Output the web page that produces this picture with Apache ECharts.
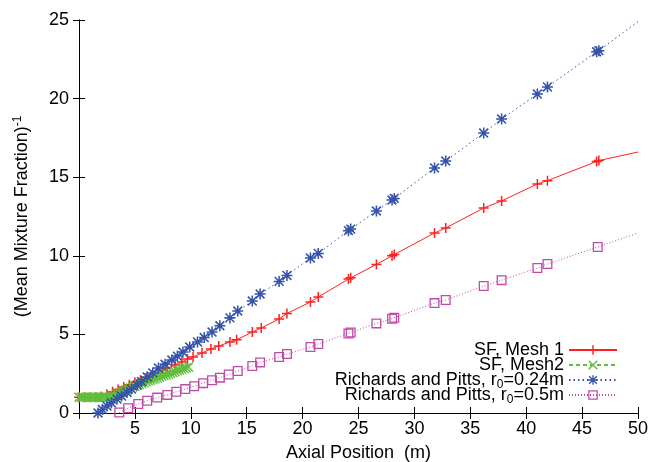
<!DOCTYPE html>
<html><head><meta charset="utf-8">
<script src="https://cdn.jsdelivr.net/npm/echarts@6/dist/echarts.min.js"></script>
<style>html,body{margin:0;padding:0;background:#fff}#c{width:652px;height:462px}</style>
</head><body><div id="c"></div>
<script>
// ---- data ----
const seriesNames = ['SF, Mesh 1', 'SF, Mesh2', 'Richards and Pitts, r0=0.24m', 'Richards and Pitts, r0=0.5m'];

const redX = [0, 0.5, 1, 1.5, 2, 2.5, 3, 3.5, 4, 4.5, 5, 5.5, 6, 6.5, 7, 7.5, 7.9, 8.6, 9.2, 9.7, 10.2, 11.0, 11.8, 12.5, 13.5, 14.1, 15.5, 16.3, 17.9, 18.6, 20.7, 21.4, 24.1, 24.3, 26.6, 28.0, 28.2, 31.8, 32.8, 36.2, 37.8, 41.0, 41.9, 46.3, 46.5];
const redY = [1.0, 1.0, 1.0, 1.0, 1.05, 1.2, 1.35, 1.5, 1.65, 1.8, 1.95, 2.1, 2.25, 2.4, 2.55, 2.72, 2.86, 3.05, 3.24, 3.43, 3.56, 3.82, 4.07, 4.26, 4.52, 4.66, 5.15, 5.41, 5.98, 6.33, 7.06, 7.38, 8.52, 8.6, 9.45, 10.0, 10.08, 11.45, 11.77, 13.04, 13.49, 14.57, 14.78, 16.0, 16.06];
const redLineEnd = [50, 16.6];

const greenX = [0, 0.2, 0.4, 0.6, 0.8, 1.0, 1.2, 1.4, 1.6, 1.8, 2.0, 2.2, 2.4, 2.6, 2.8, 3.0, 3.2, 3.4, 3.6, 3.8, 4.0, 4.2, 4.4, 4.6, 4.8, 5.0, 5.2, 5.4, 5.6, 5.8, 6.0, 6.2, 6.4, 6.6, 6.8, 7.0, 7.2, 7.4, 7.6, 7.8, 8.0, 8.2, 8.4, 8.6, 8.8, 9.0, 9.2, 9.4, 9.6, 9.8];
const greenY = [1.0, 1.0, 1.0, 1.0, 1.0, 1.0, 1.0, 1.0, 1.0, 1.0, 1.0, 1.0, 1.0, 1.0, 1.02, 1.07, 1.13, 1.2, 1.27, 1.34, 1.41, 1.47, 1.53, 1.59, 1.65, 1.7, 1.76, 1.81, 1.87, 1.92, 1.98, 2.03, 2.08, 2.13, 2.18, 2.23, 2.28, 2.33, 2.38, 2.43, 2.48, 2.53, 2.58, 2.63, 2.68, 2.73, 2.78, 2.83, 2.88, 2.93];

const blueX = [1.7, 2.1, 2.5, 2.9, 3.4, 3.8, 4.3, 4.7, 5.2, 5.6, 6.1, 6.6, 7.1, 7.7, 8.3, 8.8, 9.3, 9.9, 10.6, 11.2, 11.9, 12.6, 13.5, 14.2, 15.5, 16.2, 17.9, 18.6, 20.7, 21.4, 24.1, 24.3, 26.6, 28.0, 28.2, 31.8, 32.8, 36.2, 37.8, 41.0, 41.9, 46.3, 46.5];
const blueY = [0.0, 0.22, 0.45, 0.65, 0.88, 1.08, 1.3, 1.52, 1.78, 2.0, 2.29, 2.55, 2.86, 3.1, 3.37, 3.62, 3.88, 4.2, 4.52, 4.8, 5.15, 5.55, 6.05, 6.49, 7.12, 7.57, 8.37, 8.75, 9.86, 10.15, 11.6, 11.7, 12.85, 13.55, 13.65, 15.59, 16.03, 17.81, 18.7, 20.29, 20.74, 22.98, 23.05];
const blueLineEnd = [50, 24.9];

const magX = [3.6, 4.4, 5.3, 6.1, 7.0, 7.9, 8.7, 9.5, 10.3, 11.1, 11.9, 12.6, 13.4, 14.2, 15.5, 16.2, 17.9, 18.6, 20.7, 21.4, 24.1, 24.3, 26.6, 28.0, 28.2, 31.8, 32.8, 36.2, 37.8, 41.0, 41.9, 46.4];
const magY = [0.03, 0.3, 0.57, 0.78, 0.98, 1.15, 1.35, 1.52, 1.70, 1.90, 2.08, 2.25, 2.45, 2.67, 2.99, 3.22, 3.56, 3.75, 4.20, 4.39, 5.06, 5.12, 5.70, 6.0, 6.06, 6.99, 7.19, 8.08, 8.45, 9.22, 9.48, 10.56];
const magLineEnd = [50, 11.45];

const xMin = 0, xMax = 50, xStep = 5;
const yMin = 0, yMax = 25, yStep = 5;

// ---- build ----
function pts(xs, ys, end) {
  const d = xs.map((x, i) => [x, ys[i]]);
  if (end) d.push({ value: end, symbol: 'none' });
  return d;
}
const FONT = '"Liberation Sans", Arial, sans-serif';
const FS = 18;
const SYM_PLUS = 'path://M4.25,0H5.75V10H4.25ZM0,4.25H10V5.75H0Z';
const SYM_X = 'path://M0,1L1,0L10,9L9,10ZM9,0L10,1L1,10L0,9Z';
const SYM_AST = 'path://M4.3,0H5.7V10H4.3ZM0,4.3H10V5.7H0ZM0.5,1.5L1.5,0.5L9.5,8.5L8.5,9.5ZM8.5,0.5L9.5,1.5L1.5,9.5L0.5,8.5Z';
const SYM_SQ = 'path://M0,0H10V10H0ZM1.3,1.3V8.7H8.7V1.3Z';

const C_RED = '#ff2020', C_GREEN = '#5ebf3a', C_BLUE = '#3553a8', C_MAG = '#c04aa6';

const legendNames = {
  'SF, Mesh 1': 'SF, Mesh 1',
  'SF, Mesh2': 'SF, Mesh2',
  'Richards and Pitts, r0=0.24m': 'Richards and Pitts, r{sub|0}=0.24m',
  'Richards and Pitts, r0=0.5m': 'Richards and Pitts, r{sub|0}=0.5m'
};
const legendTops = [341, 356, 371, 386];
const legends = seriesNames.map((n, i) => ({
  data: [n], top: legendTops[i], right: 34, align: 'right', orient: 'vertical',
  padding: 0, itemWidth: 48, itemHeight: 12, selectedMode: false,
  formatter: (name) => legendNames[name],
  textStyle: { fontFamily: FONT, fontSize: FS, color: '#000',
    rich: { sub: { fontFamily: FONT, fontSize: 12, padding: [9, 0, 0, 0], color: '#000' } } }
}));

const axisCommon = {
  type: 'value', splitLine: { show: false },
  axisLine: { show: true, lineStyle: { color: '#000', width: 1 } },
  axisTick: { show: true, inside: true, length: 6, lineStyle: { color: '#000' } }
};

const chart = echarts.init(document.getElementById('c'), null, { renderer: 'canvas' });
chart.setOption({
  animation: false,
  backgroundColor: '#fff',
  grid: { left: 79, right: 14, top: 20, bottom: 49, outerBoundsMode: 'none', containLabel: false },
  legend: legends,
  xAxis: [
    Object.assign({}, axisCommon, { min: xMin, max: xMax, interval: xStep, position: 'bottom',
      name: 'Axial Position  (m)', nameLocation: 'middle', nameGap: 31,
      nameTextStyle: { fontFamily: FONT, fontSize: FS, color: '#000' },
      axisLabel: { showMinLabel: false, margin: 7, fontFamily: FONT, fontSize: FS, color: '#000' } }),
    Object.assign({}, axisCommon, { min: xMin, max: xMax, interval: xStep, position: 'top',
      axisLabel: { show: false } })
  ],
  yAxis: [
    Object.assign({}, axisCommon, { min: yMin, max: yMax, interval: yStep, position: 'left',
      name: '(Mean Mixture Fraction){sup|-1}', nameLocation: 'middle', nameGap: 46, nameRotate: 90,
      nameTextStyle: { fontFamily: FONT, fontSize: FS, color: '#000',
        rich: { sup: { fontFamily: FONT, fontSize: 12, padding: [0, 0, 9, 0], color: '#000' } } },
      axisLabel: { margin: 10, fontFamily: FONT, fontSize: FS, color: '#000' } }),
    Object.assign({}, axisCommon, { min: yMin, max: yMax, interval: yStep, position: 'right',
      axisLabel: { show: false } })
  ],
  series: [
    { name: seriesNames[0], type: 'line', data: pts(redX, redY, redLineEnd), symbol: SYM_PLUS, symbolSize: 10,
      showAllSymbol: true, color: C_RED, lineStyle: { width: 1, color: C_RED }, itemStyle: { color: C_RED } },
    { name: seriesNames[1], type: 'line', data: pts(greenX, greenY), symbol: SYM_X, symbolSize: 10,
      showAllSymbol: true, color: C_GREEN, lineStyle: { width: 1, type: [4, 3], color: C_GREEN }, itemStyle: { color: C_GREEN } },
    { name: seriesNames[2], type: 'line', data: pts(blueX, blueY, blueLineEnd), symbol: SYM_AST, symbolSize: 11,
      showAllSymbol: true, color: C_BLUE, lineStyle: { width: 1, type: [1.5, 3], color: C_BLUE }, itemStyle: { color: C_BLUE } },
    { name: seriesNames[3], type: 'line', data: pts(magX, magY, magLineEnd), symbol: SYM_SQ, symbolSize: 10,
      showAllSymbol: true, color: C_MAG, lineStyle: { width: 1, type: [1, 2], color: C_MAG }, itemStyle: { color: C_MAG } }
  ]
});
</script></body></html>
